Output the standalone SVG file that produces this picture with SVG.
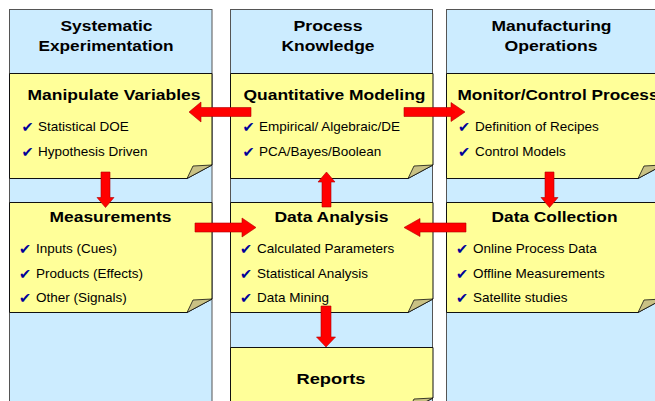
<svg xmlns="http://www.w3.org/2000/svg" width="655" height="401" viewBox="0 0 655 401">
<style>
.col{fill:#CCECFF;stroke:#555;stroke-width:1}
.note{fill:#FFFF99;stroke:#111;stroke-width:1}
.fold{fill:#C9C184;stroke:#111;stroke-width:0.8;stroke-linejoin:round}
.hd{font-family:"Liberation Sans",Arial,sans-serif;font-weight:bold;font-size:15.5px;fill:#000}
.tx{font-family:"Liberation Sans",Arial,sans-serif;font-size:13.5px;fill:#000}
.ck{font-family:"DejaVu Sans",sans-serif;font-size:14.5px;fill:#000099}
.arr{fill:#FF0000;stroke:#B00000;stroke-width:0.6}
</style>
<rect width="655" height="401" fill="#FFFFFF"/>
<g id="col-systematic">
<rect class="col" x="9.5" y="9.5" width="202.5" height="420"/>
<text class="hd" x="60.5" y="31" textLength="92" lengthAdjust="spacingAndGlyphs">Systematic</text>
<text class="hd" x="38.5" y="51" textLength="135" lengthAdjust="spacingAndGlyphs">Experimentation</text>
</g>
<g id="col-process">
<rect class="col" x="230.5" y="9.5" width="202" height="420"/>
<text class="hd" x="293.5" y="31" textLength="69" lengthAdjust="spacingAndGlyphs">Process</text>
<text class="hd" x="281.5" y="51" textLength="93" lengthAdjust="spacingAndGlyphs">Knowledge</text>
</g>
<g id="col-manufacturing">
<rect class="col" x="446.5" y="9.5" width="220" height="420"/>
<text class="hd" x="491.5" y="31" textLength="120" lengthAdjust="spacingAndGlyphs">Manufacturing</text>
<text class="hd" x="504.5" y="51" textLength="93" lengthAdjust="spacingAndGlyphs">Operations</text>
</g>
<g id="note-manipulate">
<path class="note" d="M9.5,73.5 H212 V165 L187,178.5 H9.5 Z"/>
<path class="fold" d="M187,178.5 L193,166 L212,165 Z"/>
<text class="hd" x="27.5" y="100" textLength="173" lengthAdjust="spacingAndGlyphs">Manipulate Variables</text>
<text class="ck" x="21.5" y="132">✔</text><text class="tx" x="38" y="131">Statistical DOE</text>
<text class="ck" x="21.5" y="157">✔</text><text class="tx" x="38" y="156">Hypothesis Driven</text>
</g>
<g id="note-quantitative">
<path class="note" d="M230.5,73.5 H433 V165 L408,178.5 H230.5 Z"/>
<path class="fold" d="M408,178.5 L414,166 L433,165 Z"/>
<text class="hd" x="243.5" y="100" textLength="182" lengthAdjust="spacingAndGlyphs">Quantitative Modeling</text>
<text class="ck" x="242.5" y="132">✔</text><text class="tx" x="259" y="131">Empirical/ Algebraic/DE</text>
<text class="ck" x="242.5" y="157">✔</text><text class="tx" x="259" y="156">PCA/Bayes/Boolean</text>
</g>
<g id="note-monitor">
<path class="note" d="M446.5,73.5 H663 V165 L638,178.5 H446.5 Z"/>
<path class="fold" d="M638,178.5 L644,166 L663,165 Z"/>
<text class="hd" x="457.5" y="100" textLength="201" lengthAdjust="spacingAndGlyphs">Monitor/Control Process</text>
<text class="ck" x="458" y="132">✔</text><text class="tx" x="475" y="131">Definition of Recipes</text>
<text class="ck" x="458" y="157">✔</text><text class="tx" x="475" y="156">Control Models</text>
</g>
<g id="note-measurements">
<path class="note" d="M9.5,202.5 H212 V299 L187,312.5 H9.5 Z"/>
<path class="fold" d="M187,312.5 L193,300 L212,299 Z"/>
<text class="hd" x="49.5" y="222" textLength="122" lengthAdjust="spacingAndGlyphs">Measurements</text>
<text class="ck" x="19" y="254">✔</text><text class="tx" x="36" y="253">Inputs (Cues)</text>
<text class="ck" x="19" y="279">✔</text><text class="tx" x="36" y="278">Products (Effects)</text>
<text class="ck" x="19" y="303">✔</text><text class="tx" x="36" y="302">Other (Signals)</text>
</g>
<g id="note-analysis">
<path class="note" d="M230.5,202.5 H433 V299 L408,312.5 H230.5 Z"/>
<path class="fold" d="M408,312.5 L414,300 L433,299 Z"/>
<text class="hd" x="274.5" y="222" textLength="114" lengthAdjust="spacingAndGlyphs">Data Analysis</text>
<text class="ck" x="240" y="254">✔</text><text class="tx" x="257" y="253">Calculated Parameters</text>
<text class="ck" x="240" y="279">✔</text><text class="tx" x="257" y="278">Statistical Analysis</text>
<text class="ck" x="240" y="303">✔</text><text class="tx" x="257" y="302">Data Mining</text>
</g>
<g id="note-collection">
<path class="note" d="M446.5,202.5 H663 V299 L638,312.5 H446.5 Z"/>
<path class="fold" d="M638,312.5 L644,300 L663,299 Z"/>
<text class="hd" x="491.5" y="222" textLength="126" lengthAdjust="spacingAndGlyphs">Data Collection</text>
<text class="ck" x="456" y="254">✔</text><text class="tx" x="473" y="253">Online Process Data</text>
<text class="ck" x="456" y="279">✔</text><text class="tx" x="473" y="278">Offline Measurements</text>
<text class="ck" x="456" y="303">✔</text><text class="tx" x="473" y="302">Satellite studies</text>
</g>
<g id="note-reports">
<path class="note" d="M230.5,347.5 H433 V398 L408,411 H230.5 Z"/>
<path class="fold" d="M408,411 L414,399 L433,398 Z"/>
<text class="hd" x="296.5" y="384" textLength="69" lengthAdjust="spacingAndGlyphs">Reports</text>
</g>
<g id="connectors">
<polygon class="arr" points="251,107.5 201,107.5 201,102 189,112 201,122 201,116.5 251,116.5"/>
<polygon class="arr" points="404,107.5 451,107.5 451,102.5 465,112 451,121.5 451,116.5 404,116.5"/>
<polygon class="arr" points="101,172 110,172 110,197.5 114,197.5 105.5,207.5 97,197.5 101,197.5"/>
<polygon class="arr" points="322,207 331,207 331,182 335,182 326.5,172 318,182 322,182"/>
<polygon class="arr" points="545,172 554,172 554,197.5 558,197.5 549.5,207.5 541,197.5 545,197.5"/>
<polygon class="arr" points="195,223 242,223 242,218 256,227.5 242,237 242,232 195,232"/>
<polygon class="arr" points="466,223 420,223 420,218.5 404,227.5 420,236.5 420,232 466,232"/>
<polygon class="arr" points="321,306 331,306 331,337 335.5,337 326,347 316.5,337 321,337"/>
</g>
</svg>
